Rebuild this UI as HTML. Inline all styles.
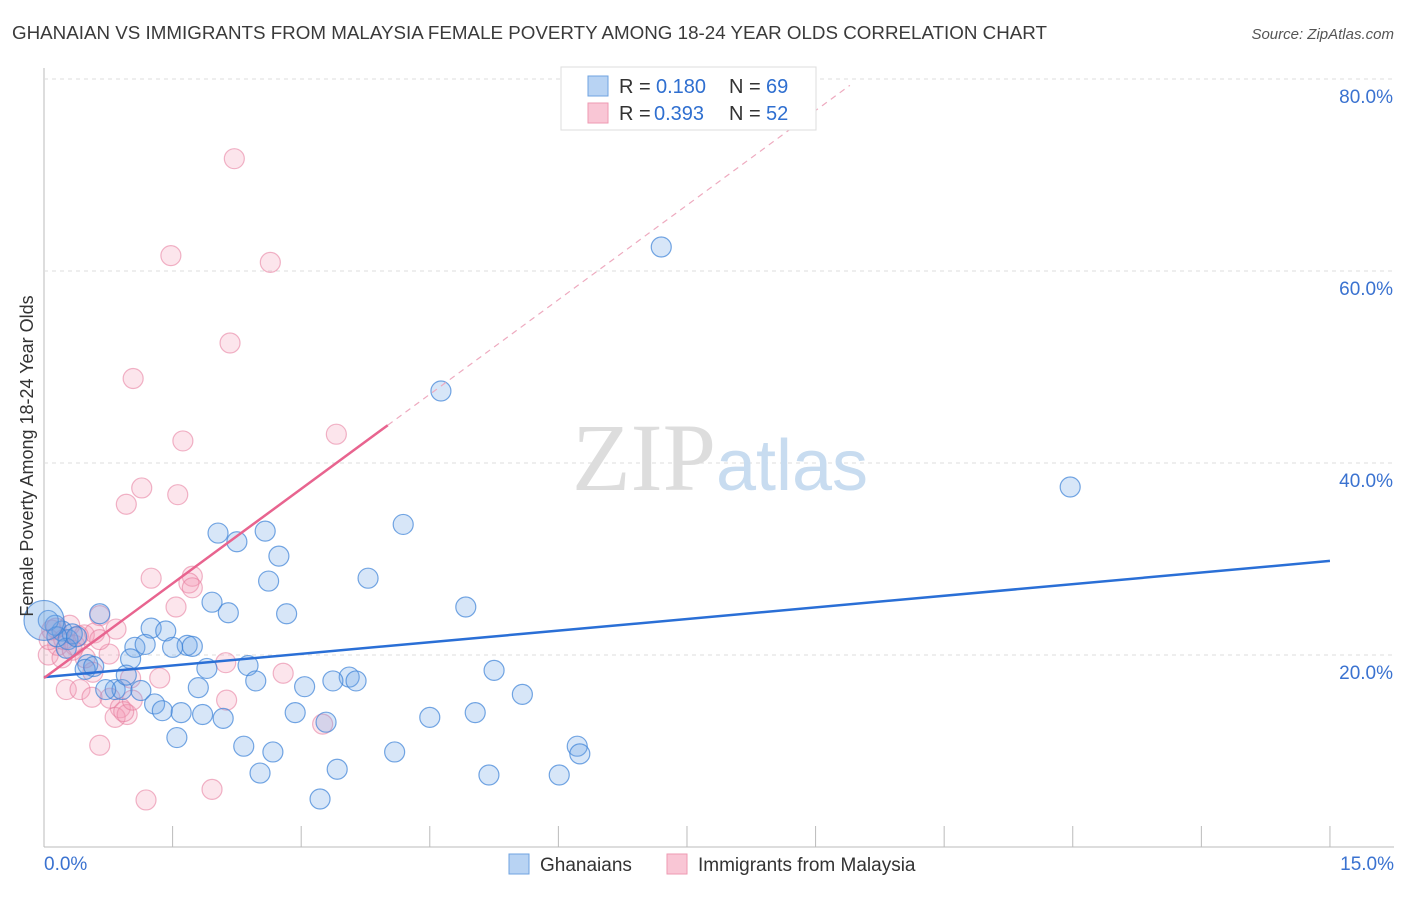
<!DOCTYPE html>
<html><head><meta charset="utf-8"><style>
body{margin:0;background:#fff;font-family:"Liberation Sans",sans-serif;}
</style></head><body>
<svg id="chart" width="1406" height="892" xmlns="http://www.w3.org/2000/svg" font-family="Liberation Sans, sans-serif">
<text x="12" y="39" font-size="18" fill="#3a3a3a" textLength="1035" lengthAdjust="spacingAndGlyphs">GHANAIAN VS IMMIGRANTS FROM MALAYSIA FEMALE POVERTY AMONG 18-24 YEAR OLDS CORRELATION CHART</text>
<text x="1394" y="39" font-size="15" fill="#555" text-anchor="end" font-style="italic">Source: ZipAtlas.com</text>
<g id="grid"></g>
<text x="720" y="490" font-size="96" text-anchor="middle" fill="#ddd" font-family="Liberation Serif, serif">ZIP<tspan fill="#c8dcf0" font-family="Liberation Sans, sans-serif" font-size="72">atlas</tspan></text>
<g id="marks"></g>
<g id="lines"></g>
<text transform="translate(33,456) rotate(-90)" font-size="18" fill="#333" text-anchor="middle">Female Poverty Among 18-24 Year Olds</text>
<g>
<rect x="561" y="67" width="255" height="63" fill="#fff" stroke="#ddd"/>
<rect x="588" y="76" width="20" height="20" fill="#b8d3f3" stroke="#6fa3e0"/>
<rect x="588" y="103" width="20" height="20" fill="#f9c6d5" stroke="#ee9ab2"/>
<text x="619" y="93" font-size="20" fill="#333">R =</text><text x="656" y="93" font-size="20" fill="#2f6fd0">0.180</text>
<text x="729" y="93" font-size="20" fill="#333">N =</text><text x="766" y="93" font-size="20" fill="#2f6fd0">69</text>
<text x="619" y="120" font-size="20" fill="#333">R =</text><text x="654" y="120" font-size="20" fill="#2f6fd0">0.393</text>
<text x="729" y="120" font-size="20" fill="#333">N =</text><text x="766" y="120" font-size="20" fill="#2f6fd0">52</text>
</g>
<g>
<rect x="509" y="854" width="20" height="20" fill="#b8d3f3" stroke="#6fa3e0"/>
<text x="540" y="871" font-size="19" fill="#333">Ghanaians</text>
<rect x="667" y="854" width="20" height="20" fill="#f9c6d5" stroke="#ee9ab2"/>
<text x="698" y="871" font-size="19" fill="#333">Immigrants from Malaysia</text>
</g>
</svg>
<script>
const xTicks=[0,1.5,3,4.5,6,7.5,9,10.5,12,13.5,15];
const yTicks=[20,40,60,80];
const yTickLabels=["20.0%","40.0%","60.0%","80.0%"];
const xEndLabels=["0.0%","15.0%"];
const blueX=[7.20,4.63,11.97,4.19,2.03,2.25,2.58,2.74,3.78,2.62,4.92,1.96,2.15,2.83,0.65,1.25,1.42,1.67,1.73,1.06,1.18,1.50,1.01,2.38,1.90,5.25,3.56,3.64,3.37,2.47,3.04,1.80,0.83,0.91,1.13,0.72,0.51,0.48,5.58,1.29,1.38,1.60,1.85,2.09,2.93,3.29,4.50,5.03,1.55,2.33,2.67,4.09,6.22,6.25,2.52,3.42,5.19,6.01,3.22,0.58,0.21,0.28,0.13,0.05,0.33,0.26,0.15,0.38,0.96];
const blueY=[62.5,47.5,37.5,33.6,32.7,31.8,32.9,30.3,28.0,27.7,25.0,25.5,24.4,24.3,24.3,22.8,22.5,21.0,20.9,20.8,21.1,20.8,19.6,18.9,18.6,18.4,17.7,17.3,17.3,17.3,16.7,16.6,16.4,16.4,16.3,16.4,19.0,18.5,15.9,14.9,14.2,14.0,13.8,13.4,14.0,13.0,13.5,14.0,11.4,10.5,9.9,9.9,10.5,9.7,7.7,8.1,7.5,7.5,5.0,18.8,22.5,21.6,23.1,23.6,22.2,20.7,21.9,21.9,17.9];
const pinkX=[2.22,1.48,2.64,2.17,1.04,1.62,3.41,1.14,0.96,1.56,1.25,1.73,1.69,1.73,1.54,0.65,0.84,2.12,2.79,1.35,0.76,1.01,0.77,0.89,0.26,0.42,0.56,0.83,0.97,3.25,0.65,1.19,1.96,2.13,0.57,0.16,0.09,0.23,0.36,0.47,0.59,0.30,0.05,0.14,0.48,0.21,0.33,0.65,0.40,0.93,0.06,1.03];
const pinkY=[71.7,61.6,60.9,52.5,48.8,42.3,43.0,37.4,35.7,36.7,28.0,28.2,27.5,27.0,25.0,24.1,22.7,19.2,18.1,17.6,20.1,17.6,15.5,14.5,16.4,16.4,15.6,13.5,13.8,12.8,10.6,4.9,6.0,15.3,18.2,21.0,22.6,21.6,21.0,22.1,22.3,23.1,20.0,22.8,19.7,19.7,20.5,21.6,22.0,14.1,21.6,15.3];
const bigBlue=[0.0,23.6];
const blueFit=[17.7,29.8];
const pinkFit=[17.6,6.568];
const pinkSolidEnd=4.01, pinkDashEnd=9.4;

const NS="http://www.w3.org/2000/svg";
const X=v=>44+v*85.73, Y=v=>847-v*9.6;
function mk(tag,attrs,parent){const e=document.createElementNS(NS,tag);for(const k in attrs)e.setAttribute(k,attrs[k]);parent.appendChild(e);return e;}
const grid=document.getElementById('grid'),marks=document.getElementById('marks'),lines=document.getElementById('lines');
mk('line',{x1:44,y1:68,x2:44,y2:847,stroke:'#bbb'},grid);
mk('line',{x1:44,y1:847,x2:1394,y2:847,stroke:'#bbb'},grid);
xTicks.forEach(t=>{const l=mk('line',{x1:X(t),y1:826,x2:X(t),y2:847,stroke:'#bbb'},grid);

});
yTicks.forEach((t,i)=>{const l=mk('line',{x1:44,y1:Y(t),x2:1394,y2:Y(t),stroke:'#ddd','stroke-dasharray':'4,4'},grid);


const tx=mk('text',{x:1393,y:Y(t)+24,'font-size':19,fill:'#3a72d0','text-anchor':'end'},grid);tx.textContent=yTickLabels[i];

});
const x0=mk('text',{x:44,y:870,'font-size':19,fill:'#3a72d0'},grid);x0.textContent=xEndLabels[0];


const x1=mk('text',{x:1394,y:870,'font-size':19,fill:'#3a72d0','text-anchor':'end'},grid);x1.textContent=xEndLabels[1];


function dot(x,y,r,fill,stroke,name){const c=mk('circle',{cx:X(x),cy:Y(y),r:r,fill:fill,stroke:stroke,'stroke-width':1.2},marks);

}
pinkX.forEach((x,i)=>dot(x,pinkY[i],10,'rgba(244,150,180,0.25)','rgba(230,120,155,0.55)','malaysia-point'));
blueX.forEach((x,i)=>dot(x,blueY[i],10,'rgba(110,165,230,0.28)','rgba(60,130,215,0.7)','ghanaian-point'));
dot(bigBlue[0],bigBlue[1],20,'rgba(110,165,230,0.35)','rgba(60,130,215,0.7)','ghanaian-point-large');
const bl=mk('line',{x1:X(0),y1:Y(blueFit[0]),x2:X(15),y2:Y(blueFit[1]),stroke:'#2a6fd6','stroke-width':2.5},lines);


const pf=x=>pinkFit[0]+pinkFit[1]*x;
const ps=mk('line',{x1:X(0),y1:Y(pf(0)),x2:X(pinkSolidEnd),y2:Y(pf(pinkSolidEnd)),stroke:'#e8648f','stroke-width':2.5},lines);


const pd=mk('line',{x1:X(pinkSolidEnd),y1:Y(pf(pinkSolidEnd)),x2:X(pinkDashEnd),y2:Y(pf(pinkDashEnd)),stroke:'#eeaabf','stroke-width':1.2,'stroke-dasharray':'6,5'},lines);


</script>
</body></html>
